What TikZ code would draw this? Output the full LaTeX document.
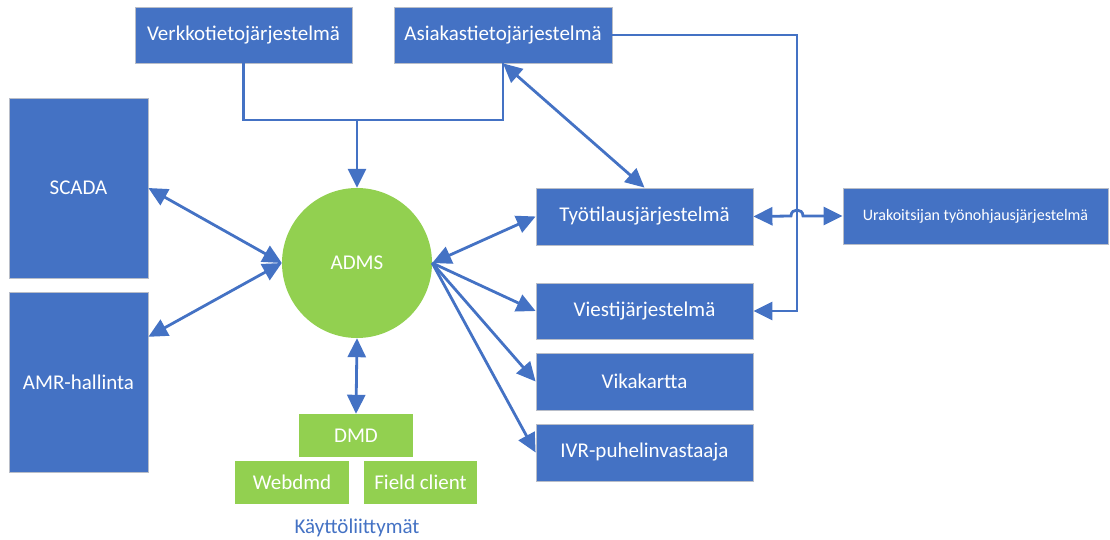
\documentclass[tikz,border=0pt]{standalone}
\usepackage{fontspec}
\setmainfont{Carlito}
\usetikzlibrary{arrows.meta,calc}
\definecolor{sysblue}{HTML}{4472C4}
\definecolor{uigreen}{HTML}{92D050}
\definecolor{edgegray}{HTML}{B8BDC8}
\begin{document}
\begin{tikzpicture}[x=1pt,y=-1pt,
  lbl/.style={font=\fontsize{21}{24}\selectfont},
  sysbox/.style={fill=sysblue,draw=edgegray,line width=0.8pt,text=white,inner sep=0pt,lbl},
  uibox/.style={fill=uigreen,draw=none,text=white,inner sep=0pt,minimum height=43pt,lbl},
  link/.style={draw=sysblue,line width=2.8pt},
  tip/.style={-{Triangle[length=19pt,width=18pt]}},
  both/.style={{Triangle[length=19pt,width=18pt]}-{Triangle[length=19pt,width=18pt]}}]
\useasboundingbox (0,0) rectangle (1110,540);

% upstream information systems
\node[sysbox,minimum width=217pt,minimum height=56pt] (verkko) at (243.5,35) {Verkkotietojärjestelmä};
\node[sysbox,minimum width=218pt,minimum height=56pt] (asiakas) at (503,35) {Asiakastietojärjestelmä};

% field systems on the left
\node[sysbox,minimum width=139pt,minimum height=180pt] (scada) at (78.5,188) {SCADA};
\node[sysbox,minimum width=139pt,minimum height=180pt] (amr) at (78.5,382) {AMR-hallinta};

% central distribution management system
\node[circle,fill=uigreen,minimum size=150pt,inner sep=0pt,text=white,lbl] (adms) at (357,263) {ADMS};

% downstream systems on the right
\node[sysbox,minimum width=217pt,minimum height=57pt] (tyo) at (644.5,216.5) {Työtilausjärjestelmä};
\node[sysbox,minimum width=217pt,minimum height=56pt] (viesti) at (644.5,311) {Viestijärjestelmä};
\node[sysbox,minimum width=217pt,minimum height=57pt] (vika) at (644.5,381.5) {Vikakartta};
\node[sysbox,minimum width=217pt,minimum height=57pt] (ivr) at (644.5,452.5) {IVR-puhelinvastaaja};
\node[sysbox,minimum width=265pt,minimum height=56pt,font=\fontsize{16}{19}\selectfont] (urak) at (975.5,216) {Urakoitsijan työnohjausjärjestelmä};

% user interfaces
\node[uibox,minimum width=114pt] (dmd) at (356,435.5) {DMD};
\node[uibox,minimum width=114pt] (webdmd) at (292,482.5) {Webdmd};
\node[uibox,minimum width=113pt] (field) at (420.5,482.5) {Field client};
\node[text=sysblue,lbl] (uilabel) at (357,528) {Käyttöliittymät};

% merged feed from the two information systems
\coordinate (join) at (adms.north |- 0,120);
\draw[link] (verkko.south) |- (join) -| (asiakas.south);
\draw[link,tip] (join) -- (adms.north);

% customer data rail down to the messaging system
\coordinate (rail) at (797,35);
\draw[link,tip] (asiakas.east) -- (rail) |- (viesti.east);

% two-way links
\draw[link,both] (asiakas.south) -- (tyo.north);
\draw[link,both] (scada.east) -- (adms.west);
\draw[link,both] ($(amr.north east)!0.25!(amr.south east)$) -- (adms.west);
\draw[link,both] (adms.east) -- (tyo.west);
\draw[link,both] (adms.south) -- (dmd.north);

% work orders to the contractor, hopping over the rail
\draw[link,both] (tyo.east) -- (791,216) .. controls (791,208) and (803,208) .. (803,216) -- (urak.west);

% one-way notifications
\draw[link,tip] (adms.east) -- (viesti.west);
\draw[link,tip] (adms.east) -- (vika.west);
\draw[link,tip] (adms.east) -- (ivr.west);
\end{tikzpicture}
\end{document}
